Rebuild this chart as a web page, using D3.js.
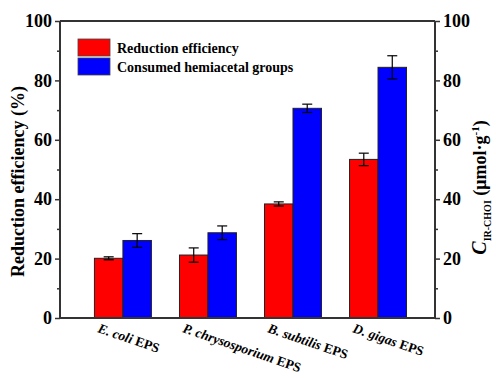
<!DOCTYPE html>
<html>
<head>
<meta charset="utf-8">
<script src="https://cdn.jsdelivr.net/npm/d3@7"></script>
<style>
  body { margin: 0; background: #fff; }
  svg text { font-family: "Liberation Serif", "DejaVu Serif", serif !important; font-weight: bold; }
</style>
</head>
<body>
<div id="chart"></div>
<script>
// data
const groups = ["E. coli", "P. chrysosporium", "B. subtilis", "D. gigas"];
const efficiency = [20.1, 21.2, 38.4, 53.4];
const efficiencyErr = [0.5, 2.4, 0.7, 2.1];
const consumed = [26.1, 28.7, 70.6, 84.4];
const consumedErr = [2.3, 2.3, 1.4, 3.9];
const yTicks = [0, 20, 40, 60, 80, 100];
const seriesNames = ["Reduction efficiency", "Consumed hemiacetal groups"];
const colors = ["#ff0000", "#0000ff"];

const W = 496, H = 378;
const pLeft = 60, pRight = 435, pTop = 21, pBottom = 318;

const svg = d3.select("#chart").append("svg")
  .attr("width", W).attr("height", H);

// x: group index, y: percent / umol
const x = d3.scaleLinear().domain([-0.74, 3.67]).range([pLeft, pRight]);
const y = d3.scaleLinear().domain([0, 100]).range([pBottom, pTop]);
const yR = d3.scaleLinear().domain([0, 100]).range([pBottom, pTop]);
const bw = x(0.335) - x(0);

// bars
const series = [
  { vals: efficiency, err: efficiencyErr, off: -1 },
  { vals: consumed, err: consumedErr, off: 0 }
];
series.forEach((s, si) => {
  const g = svg.append("g");
  g.selectAll("rect").data(s.vals).enter().append("rect")
    .attr("x", (d, i) => x(i) + s.off * bw)
    .attr("y", d => y(d))
    .attr("width", bw)
    .attr("height", d => y(0) - y(d))
    .attr("fill", colors[si])
    .attr("stroke", "#222").attr("stroke-width", 1);
  // error bars
  s.vals.forEach((d, i) => {
    const cx = x(i) + s.off * bw + bw / 2;
    const e = s.err[i];
    g.append("line").attr("x1", cx).attr("x2", cx)
      .attr("y1", y(d - e)).attr("y2", y(d + e))
      .attr("stroke", "#000").attr("stroke-width", 1.2);
    [d - e, d + e].forEach(v => {
      g.append("line").attr("x1", cx - 5).attr("x2", cx + 5)
        .attr("y1", y(v)).attr("y2", y(v))
        .attr("stroke", "#000").attr("stroke-width", 1.2);
    });
  });
});

// axes
const minor = [10, 30, 50, 70, 90];
svg.append("g").attr("transform", `translate(${pLeft},0)`)
  .call(d3.axisLeft(y).tickValues(yTicks).tickSize(5).tickPadding(3));
svg.append("g").attr("transform", `translate(${pLeft},0)`)
  .call(d3.axisLeft(y).tickValues(minor).tickSize(3).tickFormat(""))
  .select(".domain").remove();

svg.append("g").attr("transform", `translate(${pRight},0)`)
  .call(d3.axisRight(yR).tickValues(yTicks).tickSize(5).tickPadding(3));
svg.append("g").attr("transform", `translate(${pRight},0)`)
  .call(d3.axisRight(yR).tickValues(minor).tickSize(3).tickFormat(""))
  .select(".domain").remove();

svg.selectAll("g").attr("font-family", null);
svg.selectAll(".domain").attr("stroke", "#333").attr("stroke-width", 2)
  .attr("d", `M0,${pTop}V${pBottom}`);
svg.selectAll(".tick line").attr("stroke", "#333").attr("stroke-width", 1.5);
svg.selectAll(".tick text").attr("font-size", 18).attr("fill", "#000");

// top and bottom frame
svg.append("line").attr("x1", pLeft).attr("x2", pRight).attr("y1", pTop).attr("y2", pTop)
  .attr("stroke", "#333").attr("stroke-width", 2);
svg.append("line").attr("x1", pLeft).attr("x2", pRight).attr("y1", pBottom).attr("y2", pBottom)
  .attr("stroke", "#333").attr("stroke-width", 2);

// x labels, rotated
groups.forEach((name, i) => {
  const t = svg.append("text")
    .attr("transform", `translate(${x(i) - 26},${pBottom + 14}) rotate(19)`)
    .attr("font-size", 13.5);
  t.append("tspan").attr("font-style", "italic").text(name);
  t.append("tspan").text(" EPS");
});

// axis titles
svg.append("text")
  .attr("transform", `translate(24,${(pTop + pBottom) / 2 + 12}) rotate(-90)`)
  .attr("text-anchor", "middle").attr("font-size", 18)
  .text("Reduction efficiency (%)");

const rt = svg.append("text")
  .attr("transform", `translate(486,${(pTop + pBottom) / 2 + 18}) rotate(-90)`)
  .attr("text-anchor", "middle").attr("font-size", 18);
rt.append("tspan").attr("font-style", "italic").attr("font-size", 20).text("C");
rt.append("tspan").attr("font-size", 10).attr("dy", 5).text("IR-CHOI");
rt.append("tspan").attr("dy", -5).text(" (μmol·g");
rt.append("tspan").attr("font-size", 11).attr("dy", -7).text("-1");
rt.append("tspan").attr("dy", 7).text(")");

// legend
const leg = svg.append("g").attr("transform", "translate(78,39)");
seriesNames.forEach((n, i) => {
  leg.append("rect").attr("x", 0).attr("y", i * 19).attr("width", 32).attr("height", 17)
    .attr("fill", colors[i]).attr("stroke", "#444").attr("stroke-width", 0.8);
  leg.append("text").attr("x", 39).attr("y", i * 19 + 13.5)
    .attr("font-size", 14).text(n);
});
</script>
</body>
</html>
